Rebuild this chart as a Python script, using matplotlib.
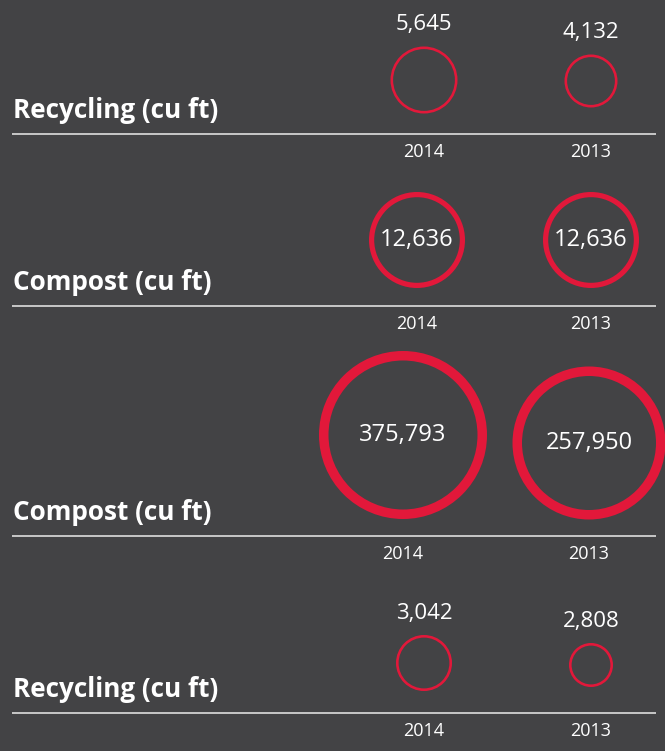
import matplotlib
matplotlib.use("Agg")
import matplotlib.pyplot as plt
from matplotlib.patches import Circle

# data
row_titles = ["Recycling (cu ft)", "Compost (cu ft)", "Compost (cu ft)", "Recycling (cu ft)"]
years = ["2014", "2013"]
vals_2014 = [5645, 12636, 375793, 3042]
vals_2013 = [4132, 12636, 257950, 2808]

# layout (pixels, figure is 665x751)
W, H = 665, 751
BG = "#434345"
RED = "#e2183a"
RULE = "#d2d2d2"
line_y = [134, 306, 536, 713]
col_x = [[424, 591], [417, 591], [403, 589], [424, 591]]
ring_r = [[33.5, 26.5], [48, 48], [84, 76.5], [28, 22]]
ring_cy = [[80, 81], [240, 240], [435, 443], [663, 665]]
ring_lw = [2.6, 5.2, 9.5, 2.6]
inside = [False, True, True, False]

plt.rcParams['font.family'] = ['Open Sans', 'DejaVu Sans']

fig = plt.figure(figsize=(W / 100, H / 100), dpi=100, facecolor=BG)
ax = fig.add_axes([0, 0, 1, 1])
ax.set_facecolor(BG)
ax.set_xlim(0, W)
ax.set_ylim(H, 0)
ax.axis("off")

px = 72 / 100  # points per pixel

for i, title in enumerate(row_titles):
    ly = line_y[i]
    ax.plot([12, 656], [ly, ly], color=RULE, lw=1.3, solid_capstyle="butt")
    ax.text(13, ly - 16, title, color="white", fontsize=18.8, fontweight="bold",
            ha="left", va="baseline")
    for j, v in enumerate([vals_2014[i], vals_2013[i]]):
        cx, cy, r = col_x[i][j], ring_cy[i][j], ring_r[i][j]
        lw = ring_lw[i]
        ax.add_patch(Circle((cx, cy), r - lw / 2, fill=False, ec=RED, lw=lw * px))
        lab = f"{v:,}"
        if inside[i]:
            ax.text(cx, cy, lab, color="white", fontsize=17, ha="center", va="center")
        else:
            ax.text(cx, cy - r - 22, lab, color="white", fontsize=16, ha="center", va="center")
        ax.text(cx, ly + 18, years[j], color="white", fontsize=13, ha="center", va="center")

fig.savefig("out.png", dpi=100, facecolor=BG)
